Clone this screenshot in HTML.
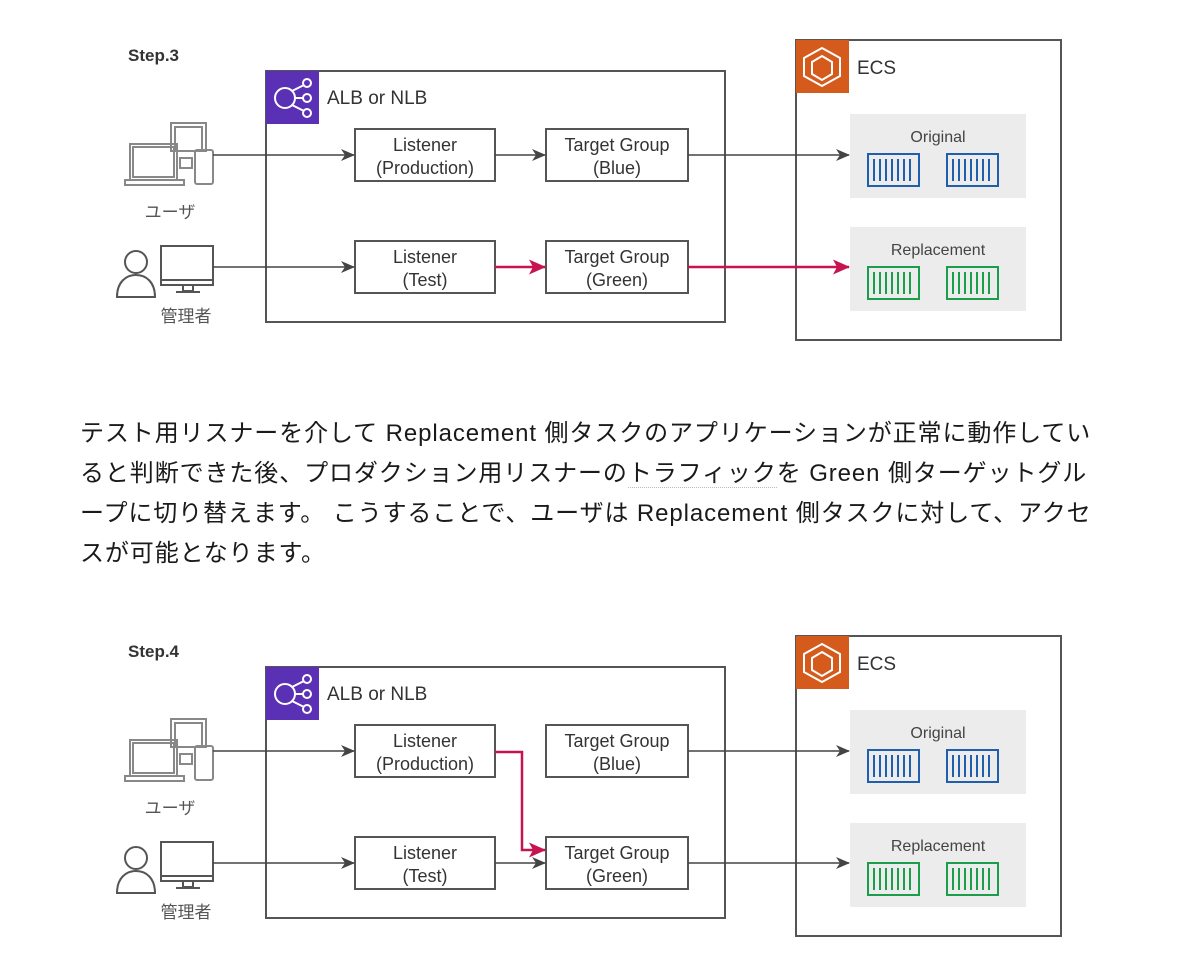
<!DOCTYPE html>
<html><head><meta charset="utf-8"><style>
html,body{margin:0;padding:0;background:#fff;width:1200px;height:972px;overflow:hidden;position:relative}
svg{position:absolute;left:0;top:0}
.p{position:absolute;left:80px;font-family:"Liberation Sans","Noto Sans CJK JP",sans-serif;font-size:24px;letter-spacing:0.9px;color:#1a1a1a;white-space:nowrap;line-height:30px}
</style></head><body>
<svg width="1200" height="972" viewBox="0 0 1200 972" font-family="Liberation Sans, Noto Sans CJK JP, sans-serif">
<defs>
<marker id="ag" markerWidth="14" markerHeight="12" refX="13" refY="6" orient="auto" markerUnits="userSpaceOnUse"><path d="M0,0 L14,6 L0,12 L4,6 Z" fill="#444"/></marker>
<marker id="ap" markerWidth="17" markerHeight="15" refX="16" refY="7.5" orient="auto" markerUnits="userSpaceOnUse"><path d="M0,0 L17,7.5 L0,15 L4,7.5 Z" fill="#c7134f"/></marker>
<g id="base">
  <g fill="none" stroke="#888" stroke-width="2">
    <rect x="171" y="123" width="35" height="28"/><rect x="175" y="127" width="27" height="24"/>
    <rect x="130" y="144" width="47" height="36"/><rect x="133" y="147" width="41" height="30"/>
    <path d="M125,180 H184 V185 H125 Z"/>
    <rect x="195" y="150" width="18" height="34" rx="2"/>
    <rect x="180" y="158" width="12" height="10"/>
  </g>
  <text x="170" y="218" font-size="17" fill="#555" text-anchor="middle">ユーザ</text>
  <g fill="none" stroke="#555" stroke-width="2">
    <circle cx="136" cy="262" r="11"/>
    <path d="M117,297 C117,282 126,275 136,275 C146,275 155,282 155,297 Z"/>
    <rect x="161" y="246" width="52" height="39"/><line x1="161" y1="280" x2="213" y2="280"/>
    <rect x="183" y="285" width="10" height="6"/><line x1="176" y1="292" x2="200" y2="292"/>
  </g>
  <text x="186" y="322" font-size="17" fill="#555" text-anchor="middle">管理者</text>
  <rect x="266" y="71" width="459" height="251" fill="none" stroke="#555" stroke-width="2"/>
  <rect x="266" y="71" width="53" height="53" fill="#5a30b5"/>
  <g fill="none" stroke="#fff" stroke-width="2">
    <circle cx="285" cy="98" r="10"/><circle cx="307" cy="83" r="4"/><circle cx="307" cy="98" r="4"/><circle cx="307" cy="113" r="4"/>
    <path d="M295,98 H303 M292,91 L304,85 M292,105 L304,111"/>
  </g>
  <text x="327" y="104" font-size="19" fill="#333">ALB or NLB</text>
  <g fill="#fff" stroke="#555" stroke-width="2">
    <rect x="355" y="129" width="140" height="52"/><rect x="546" y="129" width="142" height="52"/>
    <rect x="355" y="241" width="140" height="52"/><rect x="546" y="241" width="142" height="52"/>
  </g>
  <g font-size="18" fill="#333" text-anchor="middle">
    <text x="425" y="151">Listener</text><text x="425" y="174">(Production)</text>
    <text x="617" y="151">Target Group</text><text x="617" y="174">(Blue)</text>
    <text x="425" y="263">Listener</text><text x="425" y="286">(Test)</text>
    <text x="617" y="263">Target Group</text><text x="617" y="286">(Green)</text>
  </g>
  <rect x="796" y="40" width="265" height="300" fill="none" stroke="#555" stroke-width="2"/>
  <rect x="796" y="40" width="53" height="53" fill="#d45b1c"/>
  <g fill="none" stroke="#fff" stroke-width="2">
    <path d="M822,48 L840,58 V76 L822,86 L804,76 V58 Z"/>
    <path d="M822,56 L832,62 V74 L822,80 L812,74 V62 Z"/>
  </g>
  <text x="857" y="74" font-size="19" fill="#333">ECS</text>
  <rect x="850" y="114" width="176" height="84" fill="#ececec"/>
  <rect x="850" y="227" width="176" height="84" fill="#ececec"/>
  <text x="938" y="142" font-size="16" fill="#444" text-anchor="middle">Original</text>
  <text x="938" y="255" font-size="16" fill="#444" text-anchor="middle">Replacement</text>
  <g fill="none" stroke="#1f5fae" stroke-width="2">
    <rect x="868" y="154" width="51" height="32"/><rect x="947" y="154" width="51" height="32"/>
    <path d="M874,159V181M880,159V181M886,159V181M892,159V181M898,159V181M904,159V181M910,159V181M953,159V181M959,159V181M965,159V181M971,159V181M977,159V181M983,159V181M989,159V181"/>
  </g>
  <g fill="none" stroke="#1b9e4b" stroke-width="2">
    <rect x="868" y="267" width="51" height="32"/><rect x="947" y="267" width="51" height="32"/>
    <path d="M874,272V294M880,272V294M886,272V294M892,272V294M898,272V294M904,272V294M910,272V294M953,272V294M959,272V294M965,272V294M971,272V294M977,272V294M983,272V294M989,272V294"/>
  </g>
</g>
</defs>
<text x="128" y="61" font-size="17" font-weight="bold" fill="#333">Step.3</text>
<use href="#base"/>
<g stroke="#444" stroke-width="1.5" fill="none">
  <line x1="213" y1="155" x2="354" y2="155" marker-end="url(#ag)"/>
  <line x1="495" y1="155" x2="545" y2="155" marker-end="url(#ag)"/>
  <line x1="688" y1="155" x2="849" y2="155" marker-end="url(#ag)"/>
  <line x1="213" y1="267" x2="354" y2="267" marker-end="url(#ag)"/>
</g>
<g stroke="#c7134f" stroke-width="2.5" fill="none">
  <line x1="495" y1="267" x2="545" y2="267" marker-end="url(#ap)"/>
  <line x1="688" y1="267" x2="849" y2="267" marker-end="url(#ap)"/>
</g>

<text x="128" y="657" font-size="17" font-weight="bold" fill="#333">Step.4</text>
<use href="#base" y="596"/>
<g stroke="#444" stroke-width="1.5" fill="none">
  <line x1="213" y1="751" x2="354" y2="751" marker-end="url(#ag)"/>
  <line x1="688" y1="751" x2="849" y2="751" marker-end="url(#ag)"/>
  <line x1="213" y1="863" x2="354" y2="863" marker-end="url(#ag)"/>
  <line x1="495" y1="863" x2="545" y2="863" marker-end="url(#ag)"/>
  <line x1="688" y1="863" x2="849" y2="863" marker-end="url(#ag)"/>
</g>
<path d="M495,752 H522 V850 H545" stroke="#c7134f" stroke-width="2.5" fill="none" marker-end="url(#ap)"/>
</svg>
<div class="p" style="top:419px">テスト用リスナーを介して Replacement 側タスクのアプリケーションが正常に動作してい</div>
<div class="p" style="top:459px">ると判断できた後、プロダクション用リスナーの<span style="border-bottom:1px dotted #bbb">トラフィック</span>を Green 側ターゲットグル</div>
<div class="p" style="top:499px">ープに切り替えます。 こうすることで、ユーザは Replacement 側タスクに対して、アクセ</div>
<div class="p" style="top:539px">スが可能となります。</div>
</body></html>
